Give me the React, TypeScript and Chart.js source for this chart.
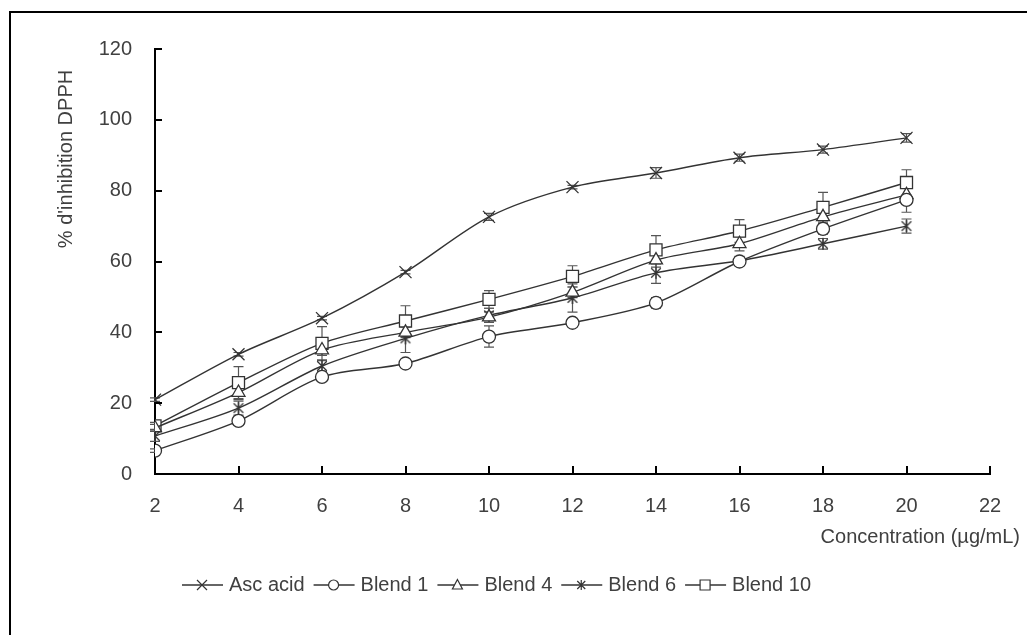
import React, { useEffect, useRef } from "react";
import { Chart, registerables } from "chart.js";

Chart.register(...registerables);

const concentrations = [2, 4, 6, 8, 10, 12, 14, 16, 18, 20];
const seriesNames = ["Asc acid", "Blend 1", "Blend 4", "Blend 6", "Blend 10"];
const ascAcid = [21, 33.8, 44, 57, 72.6, 81, 85, 89.3, 91.6, 94.9];
const blend1 = [6.6, 15, 27.4, 31.2, 38.8, 42.7, 48.3, 60, 69.2, 77.4];
const blend4 = [13, 23, 35, 40, 44.3, 51.3, 60.4, 65, 72.6, 78.8];
const blend6 = [10.7, 18.6, 30.5, 38.3, 44.8, 49.7, 56.8, 60.2, 65, 70];
const blend10 = [13.6, 25.8, 36.9, 43.2, 49.3, 55.8, 63.3, 68.6, 75.3, 82.3];
const ascAcidErr = [0.5, 0.5, 0.5, 0.5, 1, 0.5, 1.5, 1, 1, 1.2];
const blend1Err = [0.5, 0.8, 1, 0.8, 3, 0.8, 1.5, 1, 1.5, 3.5];
const blend4Err = [1, 2, 1.5, 1.5, 1.5, 1.5, 2, 2, 2, 2];
const blend6Err = [1.5, 2, 1.5, 4, 2, 4, 3, 1, 1.5, 2];
const blend10Err = [1, 4.5, 4.7, 4.3, 2.5, 3, 4, 3.2, 4.2, 3.6];
const xTitle = "Concentration (µg/mL)";
const yTitle = "% d'inhibition DPPH";
const xMin = 2, xMax = 22, xStep = 2;
const yMin = 0, yMax = 120, yStep = 20;

const INK = "#333333";
const TEXT = "#404040";
const FONT = "'Liberation Sans', Arial, sans-serif";

function makeAsterisk(size: number) {
  const c = document.createElement("canvas");
  c.width = size;
  c.height = size;
  const ctx = c.getContext("2d")!;
  ctx.strokeStyle = INK;
  ctx.lineWidth = 1.3;
  const m = size / 2;
  const r = size / 2 - 1;
  ctx.beginPath();
  ctx.moveTo(m, m - r);
  ctx.lineTo(m, m + r);
  ctx.moveTo(m - r * 0.8, m - r * 0.8);
  ctx.lineTo(m + r * 0.8, m + r * 0.8);
  ctx.moveTo(m + r * 0.8, m - r * 0.8);
  ctx.lineTo(m - r * 0.8, m + r * 0.8);
  ctx.stroke();
  return c;
}

function drawMarker(ctx: CanvasRenderingContext2D, kind: string, x: number, y: number, s: number) {
  ctx.save();
  ctx.strokeStyle = INK;
  ctx.fillStyle = "#fff";
  ctx.lineWidth = 1.2;
  ctx.beginPath();
  if (kind === "x") {
    ctx.moveTo(x - s, y - s); ctx.lineTo(x + s, y + s);
    ctx.moveTo(x + s, y - s); ctx.lineTo(x - s, y + s);
    ctx.stroke();
  } else if (kind === "o") {
    ctx.arc(x, y, s, 0, Math.PI * 2);
    ctx.fill(); ctx.stroke();
  } else if (kind === "t") {
    ctx.moveTo(x, y - s * 1.1); ctx.lineTo(x + s, y + s * 0.8); ctx.lineTo(x - s, y + s * 0.8); ctx.closePath();
    ctx.fill(); ctx.stroke();
  } else if (kind === "*") {
    ctx.moveTo(x, y - s); ctx.lineTo(x, y + s);
    ctx.moveTo(x - s * 0.8, y - s * 0.8); ctx.lineTo(x + s * 0.8, y + s * 0.8);
    ctx.moveTo(x + s * 0.8, y - s * 0.8); ctx.lineTo(x - s * 0.8, y + s * 0.8);
    ctx.stroke();
  } else {
    ctx.rect(x - s, y - s, 2 * s, 2 * s);
    ctx.fill(); ctx.stroke();
  }
  ctx.restore();
}

export default function App() {
  const ref = useRef<HTMLCanvasElement>(null);
  useEffect(() => {
    document.body.style.margin = "0";
    const canvas = ref.current!;
    const values = [ascAcid, blend1, blend4, blend6, blend10];
    const errors = [ascAcidErr, blend1Err, blend4Err, blend6Err, blend10Err];
    const markerKinds = ["x", "o", "t", "*", "s"];
    const asterisk = makeAsterisk(14);
    const pointStyles: any[] = ["crossRot", "circle", "triangle", asterisk, "rect"];
    const radii = [8.5, 6.5, 7.5, 7, 8.5];

    const datasets = values.map((vals, i) => ({
      label: seriesNames[i],
      data: concentrations.map((c, j) => ({ x: c, y: vals[j] })),
      borderColor: INK,
      borderWidth: 1.4,
      backgroundColor: "#fff",
      pointStyle: pointStyles[i],
      pointRadius: radii[i],
      pointBorderColor: INK,
      pointBackgroundColor: "#fff",
      pointBorderWidth: 1.3,
      tension: 0.3,
      fill: false,
    }));

    const errorBars = {
      id: "errorBars",
      beforeDatasetsDraw(chart: any) {
        const { ctx, scales } = chart;
        const xs = scales.x, ys = scales.y;
        ctx.save();
        ctx.strokeStyle = "#555";
        ctx.lineWidth = 1.2;
        values.forEach((vals, i) => {
          vals.forEach((v, j) => {
            const e = errors[i][j];
            const px = xs.getPixelForValue(concentrations[j]);
            const top = ys.getPixelForValue(v + e);
            const bot = ys.getPixelForValue(v - e);
            ctx.beginPath();
            ctx.moveTo(px, top); ctx.lineTo(px, bot);
            ctx.moveTo(px - 5, top); ctx.lineTo(px + 5, top);
            ctx.moveTo(px - 5, bot); ctx.lineTo(px + 5, bot);
            ctx.stroke();
          });
        });
        ctx.restore();
      },
    };

    const decorations = {
      id: "decorations",
      afterDraw(chart: any) {
        const { ctx, scales, chartArea } = chart;
        const xs = scales.x, ys = scales.y;
        ctx.save();
        // frame (top and left edges)
        ctx.fillStyle = "#000";
        ctx.fillRect(10, 11, chart.width - 10, 2);
        ctx.fillRect(9, 11, 2, chart.height - 11);
        // inward tick marks
        ctx.strokeStyle = "#000";
        ctx.lineWidth = 2;
        ys.ticks.forEach((t: any) => {
          const py = Math.round(ys.getPixelForValue(t.value));
          ctx.beginPath();
          ctx.moveTo(chartArea.left, py);
          ctx.lineTo(chartArea.left + 7, py);
          ctx.stroke();
        });
        xs.ticks.forEach((t: any) => {
          const px = Math.round(xs.getPixelForValue(t.value));
          ctx.beginPath();
          ctx.moveTo(px, chartArea.bottom);
          ctx.lineTo(px, chartArea.bottom - 8);
          ctx.stroke();
        });
        // axis titles
        ctx.fillStyle = TEXT;
        ctx.font = `20px ${FONT}`;
        ctx.textAlign = "right";
        ctx.textBaseline = "middle";
        ctx.fillText(xTitle, 1020, 537);
        ctx.save();
        ctx.translate(66, 159);
        ctx.rotate(-Math.PI / 2);
        ctx.textAlign = "center";
        ctx.fillText(yTitle, 0, 0);
        ctx.restore();
        // legend
        let lx = 182;
        const ly = 585;
        ctx.textAlign = "left";
        seriesNames.forEach((name, i) => {
          ctx.strokeStyle = INK;
          ctx.lineWidth = 1.4;
          ctx.beginPath();
          ctx.moveTo(lx, ly);
          ctx.lineTo(lx + 41, ly);
          ctx.stroke();
          drawMarker(ctx, markerKinds[i], lx + 20, ly, 5);
          const tx = lx + 47;
          ctx.fillStyle = TEXT;
          ctx.fillText(name, tx, ly);
          lx = tx + ctx.measureText(name).width + 9;
        });
        ctx.restore();
      },
    };

    const chart = new Chart(canvas, {
      type: "line",
      data: { datasets } as any,
      options: {
        responsive: false,
        animation: false,
        layout: { padding: { left: 0, right: 37, top: 49, bottom: 0 } },
        plugins: { legend: { display: false }, tooltip: { enabled: false } },
        scales: {
          x: {
            type: "linear",
            min: xMin,
            max: xMax,
            grid: { display: false, drawTicks: false },
            border: { display: true, color: "#000", width: 2 },
            ticks: { stepSize: xStep, padding: 20, color: TEXT, font: { family: FONT, size: 20 }, maxRotation: 0 },
            afterFit(s: any) { s.height = 161; },
          },
          y: {
            type: "linear",
            min: yMin,
            max: yMax,
            grid: { display: false, drawTicks: false },
            border: { display: true, color: "#000", width: 2 },
            ticks: { stepSize: yStep, padding: 23, color: TEXT, font: { family: FONT, size: 20 } },
            afterFit(s: any) { s.width = 155; },
          },
        },
      } as any,
      plugins: [errorBars, decorations],
    });
    return () => chart.destroy();
  }, []);
  return <canvas ref={ref} width={1027} height={635} style={{ display: "block" }} />;
}
